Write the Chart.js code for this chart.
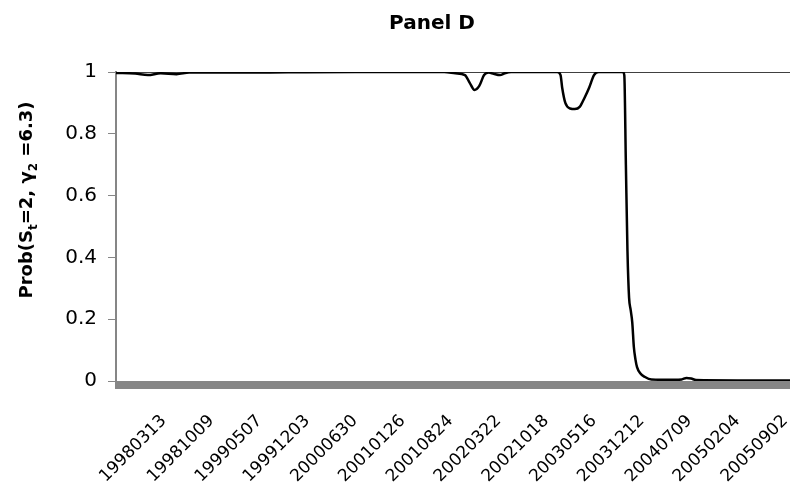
<!DOCTYPE html>
<html>
<head>
<meta charset="utf-8">
<script src="https://cdn.jsdelivr.net/npm/chart.js@4.4.1/dist/chart.umd.min.js"></script>
<style>
  body { margin: 0; background: #fff; overflow: hidden; }
</style>
</head>
<body>
<canvas id="panelD" width="790" height="485"></canvas>
<script>
// tick labels (every 30 weeks) and where they sit, in weeks from 19980313
const tickDates = ["19980313", "19981009", "19990507", "19991203", "20000630", "20010126", "20010824",
  "20020322", "20021018", "20030516", "20031212", "20040709", "20050204", "20050902"];
const tickWeeks = [0, 30, 60, 90, 120, 150, 180, 210, 240, 270, 300, 330, 360, 390];

// smoothed probability (x = weeks from 19980313)
const probWeeks = [-30, -18, -10, -2, 8, 16, 48, 78, 120, 176, 183, 189, 192, 195, 198, 201, 204, 207, 211, 214, 218,
  247, 249, 250, 252, 255, 258, 261, 264, 267, 270, 273,
  288, 289, 290, 291, 292, 293, 294, 295, 296, 297, 299, 302, 306, 320, 325, 328, 331, 334, 360, 393];
const probValues = [0.997, 0.995, 0.99, 0.996, 0.993, 0.998, 0.998, 0.999, 1, 1, 0.996, 0.99, 0.965, 0.942, 0.955, 0.99, 0.998, 0.994, 0.99, 0.996, 1,
  1, 0.99, 0.95, 0.9, 0.882, 0.88, 0.887, 0.916, 0.95, 0.99, 1,
  1, 0.99, 0.7, 0.42, 0.27, 0.23, 0.19, 0.11, 0.07, 0.045, 0.025, 0.013, 0.005, 0.004, 0.005, 0.01, 0.008, 0.003, 0.002, 0.002];

// grey bar under the plot + title and y title with subscripts
const panelDecor = {
  id: "panelDecor",
  beforeDatasetsDraw(chart) {
    const { ctx, chartArea } = chart;
    ctx.save();
    ctx.fillStyle = "#868686";
    ctx.fillRect(chartArea.left - 1, chartArea.bottom, chartArea.right - chartArea.left + 1, 8);
    ctx.restore();
  },
  afterDraw(chart) {
    const { ctx } = chart;
    ctx.save();
    ctx.fillStyle = "#000";
    ctx.font = "bold 20px 'DejaVu Sans'";
    ctx.textAlign = "center";
    ctx.fillText("Panel D", 432, 29);

    // y axis title, drawn in pieces so the subscripts sit low
    const parts = [["Prob(S", false], ["t", true], ["=2, γ", false], ["2", true], [" =6.3)", false]];
    const big = "bold 18px 'DejaVu Sans'", small = "bold 12px 'DejaVu Sans'";
    let total = 0;
    parts.forEach((p) => { ctx.font = p[1] ? small : big; total += ctx.measureText(p[0]).width; });
    ctx.translate(32, 200);
    ctx.rotate(-Math.PI / 2);
    ctx.textAlign = "left";
    let x = -total / 2;
    parts.forEach((p) => {
      ctx.font = p[1] ? small : big;
      ctx.fillText(p[0], x, p[1] ? 5 : 0);
      x += ctx.measureText(p[0]).width;
    });
    ctx.restore();
  }
};

new Chart(document.getElementById("panelD").getContext("2d"), {
  type: "line",
  data: {
    datasets: [{
      data: probWeeks.map((w, i) => ({ x: w, y: probValues[i] })),
      borderColor: "#000",
      borderWidth: 2.5,
      pointRadius: 0,
      tension: 0.4,
      cubicInterpolationMode: "monotone",
      fill: false
    }]
  },
  options: {
    responsive: false,
    animation: false,
    layout: { padding: { top: 72, left: 0, right: 0, bottom: 0 } },
    plugins: { legend: { display: false }, tooltip: { enabled: false }, title: { display: false } },
    scales: {
      x: {
        type: "linear",
        min: -30,
        max: 393,
        afterFit: (scale) => {
          scale.height = 104;
          scale.paddingLeft = 0;
          scale.paddingRight = 0;
        },
        afterBuildTicks: (scale) => { scale.ticks = tickWeeks.map((w) => ({ value: w })); },
        grid: { display: false },
        border: { display: false },
        ticks: {
          autoSkip: false,
          minRotation: 45,
          maxRotation: 45,
          padding: 22,
          color: "#000",
          font: { family: "DejaVu Sans", size: 17 },
          callback: (value, index) => tickDates[index]
        }
      },
      y: {
        min: 0,
        max: 1,
        afterFit: (scale) => { scale.width = 116; },
        ticks: {
          stepSize: 0.2,
          padding: 11,
          color: "#000",
          font: { family: "DejaVu Sans", size: 20 },
          callback: (v) => String(Number(v.toFixed(1)))
        },
        grid: {
          color: (c) => (c.tick && c.tick.value === 1 ? "#404040" : "rgba(0,0,0,0)"),
          tickColor: "#868686",
          tickLength: 8,
          lineWidth: 1
        },
        border: { color: "#868686", width: 2 }
      }
    }
  },
  plugins: [panelDecor]
});
</script>
</body>
</html>
